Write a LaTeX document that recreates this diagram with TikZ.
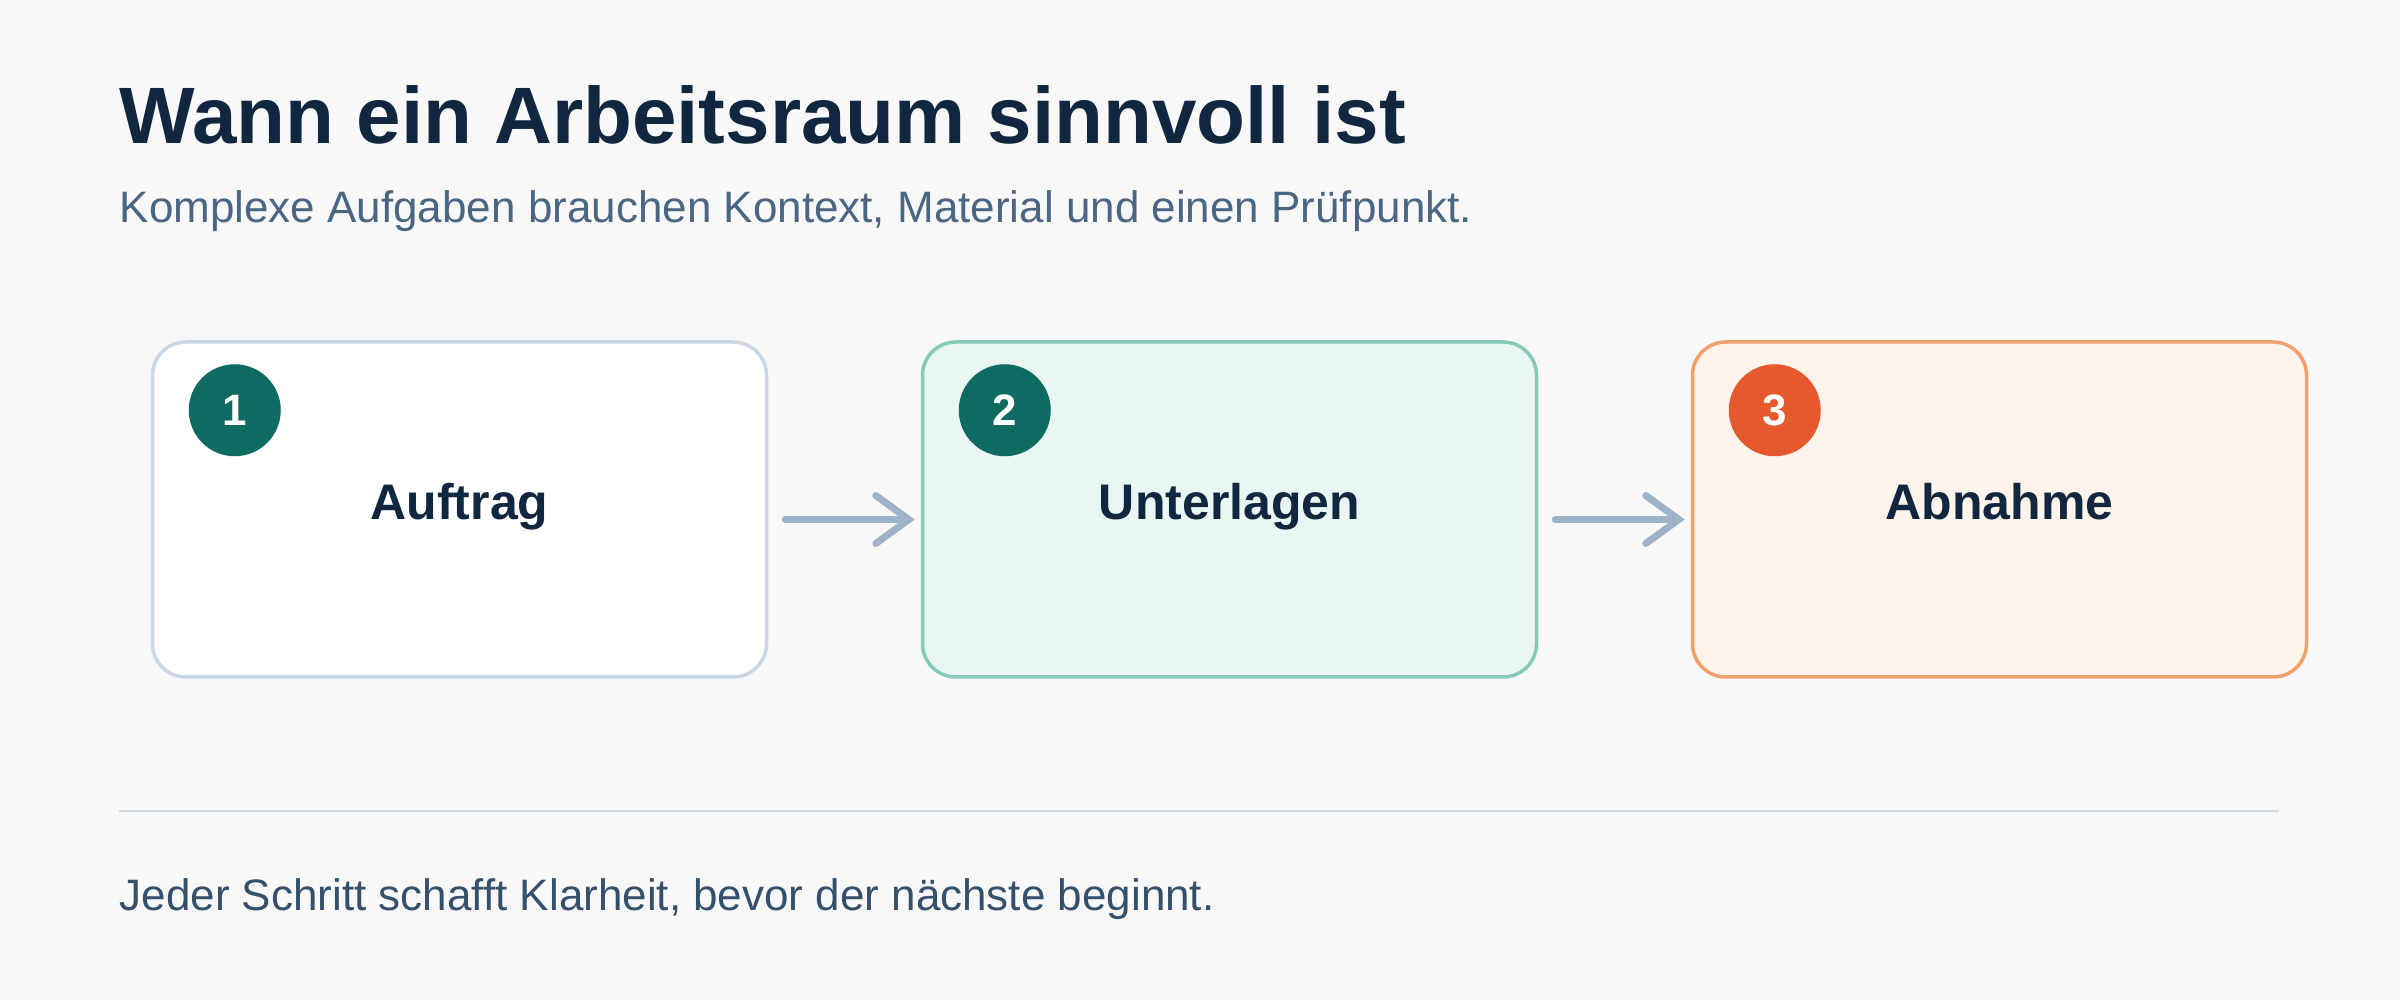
\documentclass[tikz,border=0pt]{standalone}
\usepackage{fontspec}
\setmainfont{Liberation Sans}
\usetikzlibrary{arrows.meta}
\definecolor{bgcol}{HTML}{F8F8F8}
\definecolor{titlecol}{HTML}{10273F}
\definecolor{subcol}{HTML}{4A6682}
\definecolor{footcol}{HTML}{34506B}
\definecolor{boxaline}{HTML}{C9D8E4}
\definecolor{boxbfill}{HTML}{EAF6F3}
\definecolor{boxbline}{HTML}{84CBBA}
\definecolor{boxcfill}{HTML}{FFF4EC}
\definecolor{boxcline}{HTML}{F0A06C}
\definecolor{tealdot}{HTML}{0E6B61}
\definecolor{orangedot}{HTML}{E45A2E}
\definecolor{arrowcol}{HTML}{9FB3C8}
\definecolor{sepcol}{HTML}{CFDCE4}
\tikzstyle{stepbox}=[rectangle,rounded corners=10pt,line width=1.05pt,
                     minimum width=184.2pt,minimum height=100.5pt,inner sep=0pt]
\tikzstyle{numdot}=[circle,inner sep=0pt,minimum size=27.6pt,text=white,
                    font=\fontsize{13.2}{14}\selectfont\bfseries]
\tikzstyle{steplabel}=[anchor=base,text=titlecol,
                       font=\fontsize{15}{18}\selectfont\bfseries]
\tikzstyle{flowarrow}=[draw=arrowcol,line width=2.1pt,line cap=round,
                       -{Straight Barb[length=9.9pt,width=14.4pt,line cap=round]},
                       shorten <=5.1pt,shorten >=1.8pt]

\begin{document}
\begin{tikzpicture}[x=0.3pt,y=-0.3pt]
    \newcommand{\stepdx}{770}
    \fill[bgcol] (0,0) rectangle (2400,1000);
    \useasboundingbox (0,0) rectangle (2400,1000);
    % heading
    \node (title) at (119,144) [anchor=base west,inner sep=0pt,text=titlecol,
      font=\fontsize{24}{28}\selectfont\bfseries]{Wann ein Arbeitsraum sinnvoll ist};
    \node (sub) at (119,223) [anchor=base west,inner sep=0pt,text=subcol,
      font=\fontsize{13.2}{16}\selectfont]{Komplexe Aufgaben brauchen Kontext, Material und einen Prüfpunkt.};
    % steps
    \node (b1) at (459.5,509.5) [stepbox,draw=boxaline,fill=white]{};
    \node (b2) at (459.5+\stepdx,509.5) [stepbox,draw=boxbline,fill=boxbfill]{};
    \node (b3) at (459.5+2*\stepdx,509.5) [stepbox,draw=boxcline,fill=boxcfill]{};
    \node (n1) at ([shift={(84,70)}]b1.north west) [numdot,fill=tealdot]{1};
    \node (n2) at ([shift={(84,70)}]b2.north west) [numdot,fill=tealdot]{2};
    \node (n3) at ([shift={(84,70)}]b3.north west) [numdot,fill=orangedot]{3};
    \node (l1) at ([yshift=-3.15pt]b1.center) [steplabel]{Auftrag};
    \node (l2) at ([yshift=-3.15pt]b2.center) [steplabel]{Unterlagen};
    \node (l3) at ([yshift=-3.15pt]b3.center) [steplabel]{Abnahme};
    \draw[flowarrow] ([yshift=-3pt]b1.east) -- ([yshift=-3pt]b2.west);
    \draw[flowarrow] ([yshift=-3pt]b2.east) -- ([yshift=-3pt]b3.west);
    % footer
    \draw[sepcol,line width=0.6pt] (119,811) -- (2279,811);
    \node (foot) at (119,910) [anchor=base west,inner sep=0pt,text=footcol,
      font=\fontsize{13.2}{16}\selectfont]{Jeder Schritt schafft Klarheit, bevor der nächste beginnt.};
  \end{tikzpicture}
\end{document}
